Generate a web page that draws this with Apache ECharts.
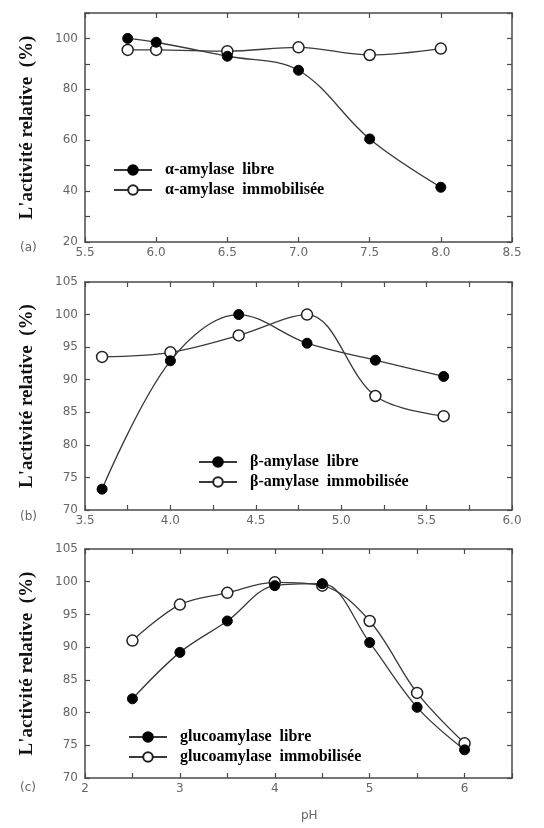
<!DOCTYPE html>
<html>
<head>
<meta charset="utf-8">
<script src="https://cdn.jsdelivr.net/npm/echarts@6/dist/echarts.min.js"></script>
<style>html,body{margin:0;padding:0;background:#fff;}#c{width:544px;height:828px;}</style>
</head>
<body>
<div id="c"></div>
<script>
// Panel (a)
const phA = [5.8, 6.0, 6.5, 7.0, 7.5, 8.0];
const alphaLibre = [100, 98.5, 93, 87.5, 60.5, 41.5];
const alphaImmob = [95.5, 95.5, 95, 96.5, 93.5, 96];
// Panel (b)
const phB = [3.6, 4.0, 4.4, 4.8, 5.2, 5.6];
const betaLibre = [73.2, 92.9, 100, 95.6, 93.0, 90.5];
const betaImmob = [93.5, 94.2, 96.8, 100, 87.5, 84.4];
// Panel (c)
const phC = [2.5, 3.0, 3.5, 4.0, 4.5, 5.0, 5.5, 6.0];
const glucoLibre = [82.1, 89.2, 94.0, 99.4, 99.7, 90.7, 80.8, 74.3];
const glucoImmob = [91.0, 96.5, 98.3, 99.9, 99.4, 94.0, 83.0, 75.3];

const names = {
  aL: 'α-amylase  libre', aI: 'α-amylase  immobilisée',
  bL: 'β-amylase  libre', bI: 'β-amylase  immobilisée',
  cL: 'glucoamylase  libre', cI: 'glucoamylase  immobilisée'
};
const yTitle = "L'activité relative  (%)";

const zip = (xs, ys) => xs.map((x, i) => [x, ys[i]]);
const lineCol = '#3a3a3a';
const axisCol = '#4a4a4a';
const labelStyle = { color: '#666', fontSize: 12, fontFamily: 'DejaVu Sans' };

const grids = [
  { left: 85, top: 13, width: 427, height: 229 },
  { left: 85, top: 282, width: 427, height: 228 },
  { left: 85, top: 549, width: 427, height: 229 }
];

function xAx(i, min, max, interval, labelEvery, dec) {
  const base = {
    gridIndex: i, type: 'value', min: min, max: max, interval: interval,
    axisLine: { show: true, lineStyle: { color: axisCol, width: 1.5 } },
    axisTick: { show: true, inside: true, length: 5, lineStyle: { color: axisCol, width: 1.2 } },
    splitLine: { show: false }
  };
  return [
    Object.assign({}, base, {
      position: 'bottom',
      axisLabel: Object.assign({}, labelStyle, {
        margin: 5, showMinLabel: true, showMaxLabel: true,
        formatter: v => {
          const r = Math.round(v / labelEvery * 1000) / 1000;
          return Math.abs(r - Math.round(r)) < 1e-6 ? v.toFixed(dec) : '';
        }
      })
    }),
    Object.assign({}, base, { position: 'top', axisLabel: { show: false } })
  ];
}
function yAx(i, min, max, interval, labelEvery) {
  const base = {
    gridIndex: i, type: 'value', min: min, max: max, interval: interval,
    axisLine: { show: true, lineStyle: { color: axisCol, width: 1.5 } },
    axisTick: { show: true, inside: true, length: 5, lineStyle: { color: axisCol, width: 1.2 } },
    splitLine: { show: false }
  };
  return [
    Object.assign({}, base, {
      position: 'left', name: yTitle, nameLocation: 'middle', nameGap: 48,
      nameTextStyle: { fontFamily: 'Liberation Serif', fontWeight: 'bold', fontSize: 19, color: '#111' },
      axisLabel: Object.assign({}, labelStyle, {
        margin: 7, showMinLabel: true, showMaxLabel: true,
        formatter: v => (Math.abs(v % labelEvery) < 1e-6 ? String(v) : '')
      })
    }),
    Object.assign({}, base, { position: 'right', axisLabel: { show: false } })
  ];
}

const xAxes = [].concat(
  xAx(0, 5.5, 8.5, 0.5, 0.5, 1),
  xAx(1, 3.5, 6.0, 0.25, 0.5, 1),
  xAx(2, 2, 6.5, 0.5, 1, 0)
);
const yAxes = [].concat(
  yAx(0, 20, 110, 10, 20),
  yAx(1, 70, 105, 5, 5),
  yAx(2, 70, 105, 5, 5)
);

function ser(name, data, idx, filled) {
  return {
    name: name, type: 'line', xAxisIndex: idx * 2, yAxisIndex: idx * 2,
    data: data, smooth: 0.35, symbol: 'circle', symbolSize: filled ? 10 : 11,
    lineStyle: { color: lineCol, width: 1.3 },
    itemStyle: filled ? { color: '#000', borderColor: '#000', borderWidth: 1 }
                      : { color: '#fff', borderColor: '#222', borderWidth: 1.5 },
    emphasis: { disabled: true }, animation: false, z: filled ? 3 : 2
  };
}

const series = [
  ser(names.aL, zip(phA, alphaLibre), 0, true),
  ser(names.aI, zip(phA, alphaImmob), 0, false),
  ser(names.bL, zip(phB, betaLibre), 1, true),
  ser(names.bI, zip(phB, betaImmob), 1, false),
  ser(names.cL, zip(phC, glucoLibre), 2, true),
  ser(names.cI, zip(phC, glucoImmob), 2, false)
];

function leg(data, left, top) {
  return {
    data: data, left: left, top: top, orient: 'vertical', itemWidth: 38, itemHeight: 12, itemGap: 4,
    selectedMode: false,
    textStyle: { fontFamily: 'Liberation Serif', fontWeight: 'bold', fontSize: 16, lineHeight: 16, color: '#000', padding: [0, 0, 0, 8] }
  };
}

const option = {
  backgroundColor: '#fff',
  animation: false,
  grid: grids,
  xAxis: xAxes,
  yAxis: yAxes,
  legend: [
    leg([names.aL, names.aI], 108, 157),
    leg([names.bL, names.bI], 193, 449),
    leg([names.cL, names.cI], 123, 724)
  ],
  graphic: [
    { type: 'text', left: 20, top: 242, style: { text: '(a)', fill: '#666', font: '12px DejaVu Sans' } },
    { type: 'text', left: 20, top: 511, style: { text: '(b)', fill: '#666', font: '12px DejaVu Sans' } },
    { type: 'text', left: 20, top: 782, style: { text: '(c)', fill: '#666', font: '12px DejaVu Sans' } },
    { type: 'text', left: 301, top: 810, style: { text: 'pH', fill: '#666', font: '12px DejaVu Sans' } }
  ],
  series: series
};

const chart = echarts.init(document.getElementById('c'), null, { renderer: 'canvas' });
chart.setOption(option);
</script>
</body>
</html>
